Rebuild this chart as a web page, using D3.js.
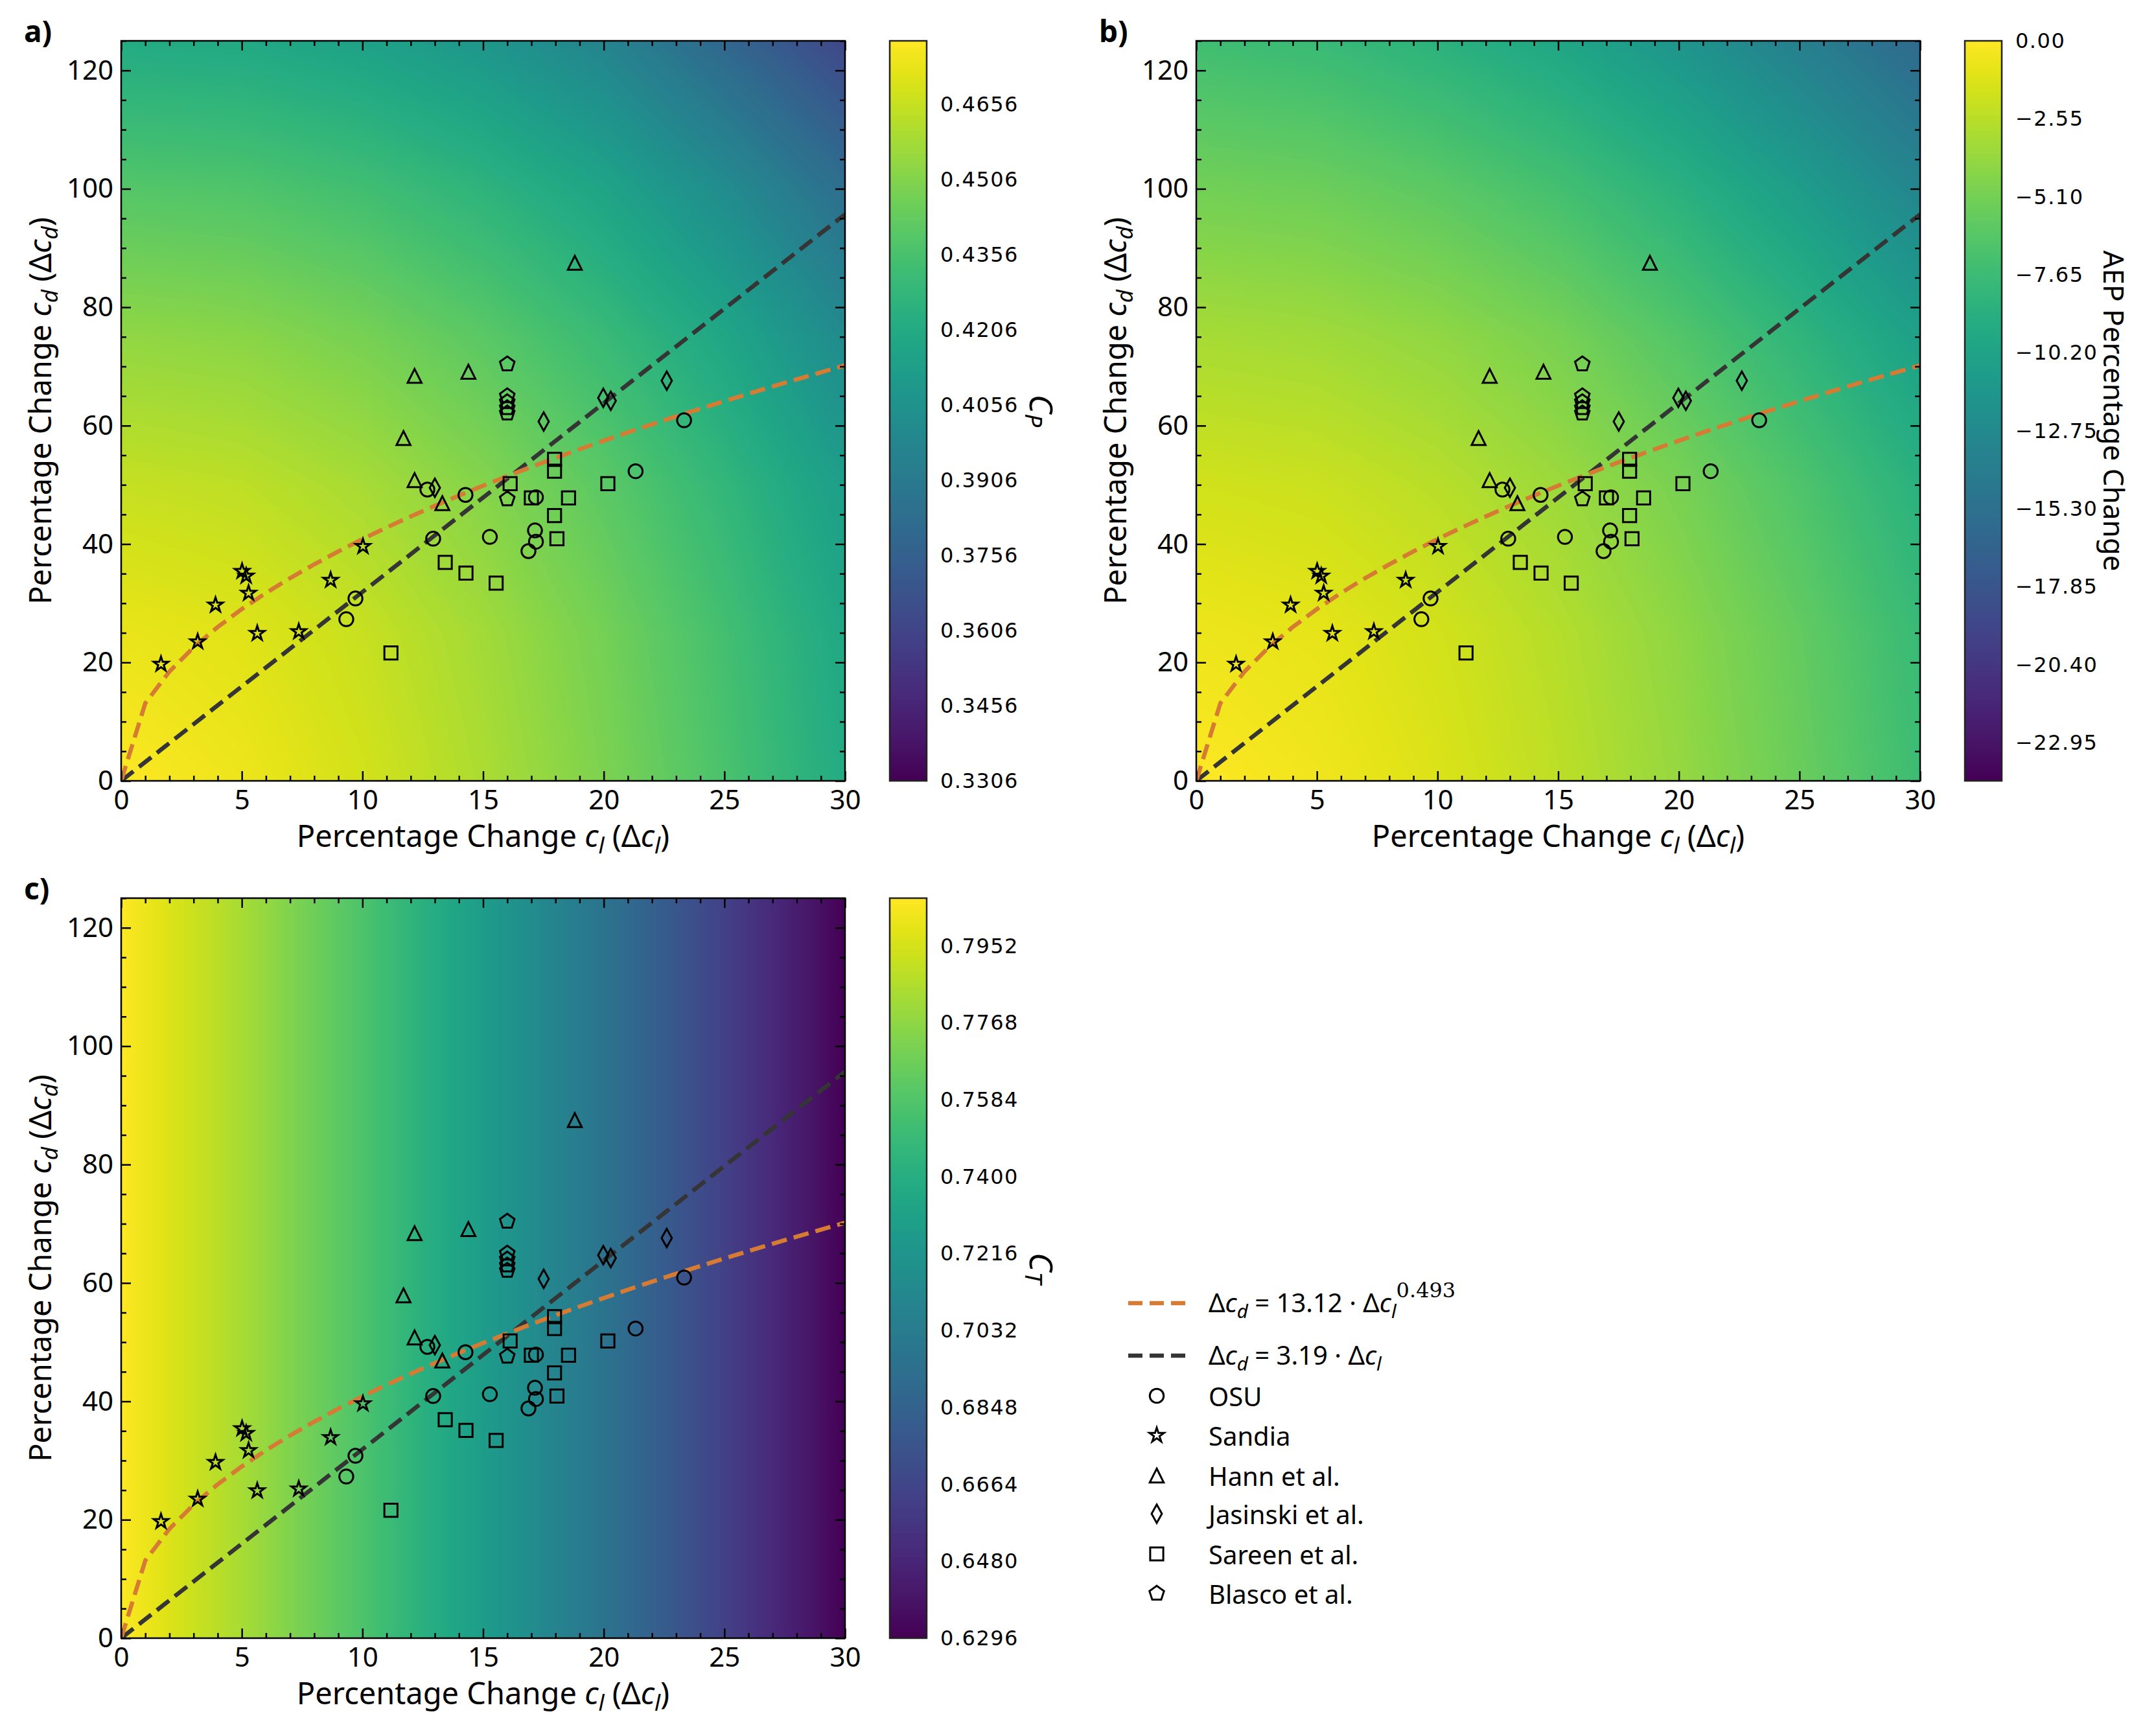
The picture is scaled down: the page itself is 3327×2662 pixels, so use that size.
<!DOCTYPE html>
<html lang="en">
<head>
<meta charset="UTF-8">
<title>Lift / drag change maps</title>
<script src="https://cdn.jsdelivr.net/npm/d3@7"></script>
<style>
  body { margin: 0; background: #fff; }
  svg text { font-family: "Noto Sans", sans-serif; fill: #000; }
  .tick text { font-family: "Noto Sans", sans-serif; font-size: 42px; }
  .cbar-tick { font-family: "DejaVu Sans", sans-serif; font-size: 32px; letter-spacing: 1.5px; }
</style>
</head>
<body>
<div id="app"></div>
<script>
// sample grid for the background fields
const gridCl = [0, 5, 10, 15, 20, 25, 30];
const gridCd = [0, 25, 50, 75, 100, 125];

// Cp, one row per gridCd value
const cpGrid = [
  [0.4783, 0.4746, 0.4686, 0.4601, 0.4494, 0.4362, 0.4207],
  [0.4736, 0.4715, 0.4660, 0.4579, 0.4473, 0.4341, 0.4186],
  [0.4656, 0.4638, 0.4590, 0.4513, 0.4409, 0.4281, 0.4127],
  [0.4541, 0.4525, 0.4480, 0.4406, 0.4306, 0.4180, 0.4010],
  [0.4390, 0.4377, 0.4334, 0.4263, 0.4166, 0.4020, 0.3835],
  [0.4207, 0.4194, 0.4151, 0.4083, 0.3970, 0.3790, 0.3615]
];
// AEP percentage change
const aepGrid = [
  [0.00, -0.48, -1.28, -2.38, -3.79, -5.52, -7.55],
  [-0.62, -0.89, -1.61, -2.67, -4.07, -5.79, -7.82],
  [-1.66, -1.90, -2.54, -3.54, -4.90, -6.70, -8.80],
  [-3.18, -3.39, -3.97, -4.94, -6.50, -8.40, -10.50],
  [-5.15, -5.40, -6.10, -7.20, -8.80, -10.80, -13.20],
  [-7.40, -7.80, -8.70, -9.90, -11.60, -13.80, -16.00]
];
// Ct only varies with lift change
const ctByCl = [0.8066, 0.7836, 0.7570, 0.7270, 0.6968, 0.6632, 0.6296];

const cpTicks = [0.3306, 0.3456, 0.3606, 0.3756, 0.3906, 0.4056, 0.4206, 0.4356, 0.4506, 0.4656];
const aepTicks = [0, -2.55, -5.10, -7.65, -10.20, -12.75, -15.30, -17.85, -20.40, -22.95];
const ctTicks = [0.6296, 0.6480, 0.6664, 0.6848, 0.7032, 0.7216, 0.7400, 0.7584, 0.7768, 0.7952];

// experimental points [delta cl, delta cd]
const osu = [[23.33, 60.9], [21.32, 52.3], [12.69, 49.2], [14.27, 48.3], [17.19, 47.9], [12.93, 40.9],
  [15.28, 41.2], [17.15, 42.3], [17.19, 40.4], [16.88, 38.8], [9.71, 30.8], [9.33, 27.3]];
const sandia = [[1.65, 19.7], [3.17, 23.5], [3.91, 29.7], [5.01, 35.4], [5.18, 34.6], [5.28, 31.7],
  [5.64, 24.9], [7.36, 25.2], [8.68, 33.9], [10.02, 39.6]];
const hann = [[18.80, 87.5], [12.16, 68.4], [14.39, 69.1], [11.70, 57.9], [12.16, 50.8], [13.31, 46.9]];
const jasinski = [[22.61, 67.6], [19.98, 64.7], [20.29, 64.2], [17.51, 60.7], [13.00, 49.5]];
const sareen = [[17.96, 54.3], [17.96, 52.3], [16.12, 50.2], [20.17, 50.2], [17.00, 47.8], [18.54, 47.8],
  [17.96, 44.8], [18.06, 40.9], [13.43, 36.9], [14.29, 35.1], [15.54, 33.4], [11.18, 21.6]];
const blasco = [[16.0, 70.4], [16.0, 65.0], [16.0, 64.0], [16.0, 63.0], [16.0, 62.1], [16.0, 47.6]];

// fitted curves
const powerFitCl = [0, 1, 2, 3, 4, 5, 6, 7, 8, 9, 10, 11, 12, 13, 14, 15, 16, 17, 18, 19, 20,
  21, 22, 23, 24, 25, 26, 27, 28, 29, 30];
const powerFitCd = [0, 13.12, 18.46, 22.55, 25.98, 29.01, 31.74, 34.24, 36.57, 38.76, 40.83,
  42.79, 44.66, 46.46, 48.19, 49.86, 51.46, 53.04, 54.55, 56.02, 57.45, 58.86, 60.22, 61.56,
  62.85, 64.14, 65.38, 66.62, 67.82, 69.01, 70.17];
const linFitCl = [0, 30];
const linFitCd = [0, 95.7];

const orange = '#d67b34';
const darkLine = '#353535';

// marker shapes, size = width squared
const mk = s => Math.sqrt(s);
const shapes = {
  circle: { draw(c, size) { const r = mk(size) / 2; c.moveTo(r, 0); c.arc(0, 0, r, 0, 2 * Math.PI); } },
  square: { draw(c, size) { const h = mk(size) * 0.47; c.rect(-h, -h, 2 * h, 2 * h); } },
  triangle: { draw(c, size) { const h = mk(size) / 2; c.moveTo(0, -h); c.lineTo(h, h); c.lineTo(-h, h); c.closePath(); } },
  thinDiamond: { draw(c, size) { const s = mk(size); c.moveTo(0, -0.66 * s); c.lineTo(0.37 * s, 0); c.lineTo(0, 0.66 * s); c.lineTo(-0.37 * s, 0); c.closePath(); } },
  pentagon: { draw(c, size) { const r = mk(size) * 0.55; for (let i = 0; i < 5; i++) { const a = -Math.PI / 2 + i * 2 * Math.PI / 5; i ? c.lineTo(r * Math.cos(a), r * Math.sin(a)) : c.moveTo(r * Math.cos(a), r * Math.sin(a)); } c.closePath(); } },
  star: { draw(c, size) { const R = mk(size) * 0.55, r = R * 0.382; for (let i = 0; i < 10; i++) { const a = -Math.PI / 2 + i * Math.PI / 5, rr = i % 2 ? r : R; i ? c.lineTo(rr * Math.cos(a), rr * Math.sin(a)) : c.moveTo(rr * Math.cos(a), rr * Math.sin(a)); } c.closePath(); } }
};

const series = [
  { name: 'OSU', data: osu, shape: shapes.circle },
  { name: 'Sandia', data: sandia, shape: shapes.star },
  { name: 'Hann et al.', data: hann, shape: shapes.triangle },
  { name: 'Jasinski et al.', data: jasinski, shape: shapes.thinDiamond },
  { name: 'Sareen et al.', data: sareen, shape: shapes.square },
  { name: 'Blasco et al.', data: blasco, shape: shapes.pentagon }
];
const markerSize = 462;

const W = 3327, H = 2662;
const plotW = 1117, plotH = 1142;
const cbarGap = 69, cbarW = 57;

const fmt4 = d3.format('.4f'), fmt2 = d3.format('.2f');
const panels = [
  { tag: 'a)', left: 187, top: 63, grid: cpGrid, domain: [0.3306, 0.4783], ticks: cpTicks, fmt: fmt4, label: 'cp', labelX: 1608 },
  { tag: 'b)', left: 1846, top: 63, grid: aepGrid, domain: [-24.2, 0], ticks: aepTicks, fmt: fmt2, label: 'aep', labelX: 3263 },
  { tag: 'c)', left: 187, top: 1386, grid: gridCd.map(() => ctByCl), domain: [0.6296, 0.8066], ticks: ctTicks, fmt: fmt4, label: 'ct', labelX: 1608 }
];

const lut = d3.range(256).map(i => d3.rgb(d3.interpolateViridis(i / 255)));

function sampleGrid(grid, cl, cd) {
  const i = Math.max(0, Math.min(gridCl.length - 2, d3.bisectRight(gridCl, cl) - 1));
  const j = Math.max(0, Math.min(gridCd.length - 2, d3.bisectRight(gridCd, cd) - 1));
  const tx = (cl - gridCl[i]) / (gridCl[i + 1] - gridCl[i]);
  const ty = (cd - gridCd[j]) / (gridCd[j + 1] - gridCd[j]);
  const a = grid[j][i] * (1 - tx) + grid[j][i + 1] * tx;
  const b = grid[j + 1][i] * (1 - tx) + grid[j + 1][i + 1] * tx;
  return a * (1 - ty) + b * ty;
}

const svg = d3.select('#app').append('svg')
  .attr('width', W).attr('height', H)
  .style('display', 'block');
svg.append('rect').attr('width', W).attr('height', H).attr('fill', '#fff');

function mathLabel(g, parts, size) {
  // parts: [text, style] where style: '', 'i' italic, 's' italic subscript
  const t = g.append('text').attr('font-size', size);
  let shifted = false;
  parts.forEach(([txt, st]) => {
    const ts = t.append('tspan').text(txt);
    if (st === 'i' || st === 's') ts.attr('font-style', 'italic');
    if (st === 's' && !shifted) { ts.attr('dy', size * 0.22).attr('font-size', size * 0.74); shifted = true; }
    else if (st !== 's' && shifted) { ts.attr('dy', -size * 0.22); shifted = false; }
  });
  return t;
}

panels.forEach((p, k) => {
  const x = d3.scaleLinear().domain([0, 30]).range([0, plotW]);
  const y = d3.scaleLinear().domain([0, 125]).range([plotH, 0]);
  const color = d3.scaleLinear().domain(p.domain).range([0, 255]).clamp(true);
  const g = svg.append('g').attr('transform', `translate(${p.left},${p.top})`);

  // background field
  const cv = document.createElement('canvas');
  cv.width = plotW; cv.height = plotH;
  const ctx = cv.getContext('2d');
  const img = ctx.createImageData(plotW, plotH);
  for (let py = 0; py < plotH; py++) {
    const cd = y.invert(py + 0.5);
    for (let px = 0; px < plotW; px++) {
      const v = sampleGrid(p.grid, x.invert(px + 0.5), cd);
      const c = lut[Math.round(color(v))];
      const o = (py * plotW + px) * 4;
      img.data[o] = c.r; img.data[o + 1] = c.g; img.data[o + 2] = c.b; img.data[o + 3] = 255;
    }
  }
  ctx.putImageData(img, 0, 0);
  g.append('image').attr('href', cv.toDataURL()).attr('width', plotW).attr('height', plotH)
    .attr('preserveAspectRatio', 'none');

  const clipId = 'clip' + k;
  g.append('clipPath').attr('id', clipId).append('rect').attr('width', plotW).attr('height', plotH);

  // fits
  const line = d3.line().x(d => x(d[0])).y(d => y(d[1]));
  const lines = g.append('g').attr('clip-path', `url(#${clipId})`).attr('fill', 'none')
    .attr('stroke-width', 6.5).attr('stroke-dasharray', '24,11');
  lines.append('path').attr('d', line(linFitCl.map((c, i) => [c, linFitCd[i]]))).attr('stroke', darkLine);
  lines.append('path').attr('d', line(powerFitCl.map((c, i) => [c, powerFitCd[i]]))).attr('stroke', orange);

  // markers
  series.forEach(s => {
    g.append('g').selectAll('path').data(s.data).join('path')
      .attr('transform', d => `translate(${x(d[0])},${y(d[1])})`)
      .attr('d', d3.symbol().type(s.shape).size(markerSize))
      .attr('fill', 'none').attr('stroke', '#000').attr('stroke-width', 3);
  });

  // axes, ticks inward on all sides
  const xMajor = [0, 5, 10, 15, 20, 25, 30];
  const xMinor = d3.range(0, 31).filter(v => v % 5);
  const yMajor = [0, 20, 40, 60, 80, 100, 120];
  const yMinor = d3.range(0, 126, 5).filter(v => v % 20);
  const axes = [
    g.append('g').attr('transform', `translate(0,${plotH})`).call(d3.axisBottom(x).tickValues(xMajor).tickSize(-15).tickPadding(14).tickFormat(d3.format('d'))),
    g.append('g').attr('transform', `translate(0,${plotH})`).call(d3.axisBottom(x).tickValues(xMinor).tickSize(-8).tickFormat('')),
    g.append('g').call(d3.axisTop(x).tickValues(xMajor).tickSize(-15).tickFormat('')),
    g.append('g').call(d3.axisTop(x).tickValues(xMinor).tickSize(-8).tickFormat('')),
    g.append('g').call(d3.axisLeft(y).tickValues(yMajor).tickSize(-15).tickPadding(12).tickFormat(d3.format('d'))),
    g.append('g').call(d3.axisLeft(y).tickValues(yMinor).tickSize(-8).tickFormat('')),
    g.append('g').attr('transform', `translate(${plotW},0)`).call(d3.axisRight(y).tickValues(yMajor).tickSize(-15).tickFormat('')),
    g.append('g').attr('transform', `translate(${plotW},0)`).call(d3.axisRight(y).tickValues(yMinor).tickSize(-8).tickFormat(''))
  ];
  axes.forEach(a => {
    a.select('.domain').remove();
    a.selectAll('line').attr('stroke', '#000').attr('stroke-width', 2.5);
    a.selectAll('text').attr('font-size', 42).attr('fill', '#000');
  });
  g.append('rect').attr('width', plotW).attr('height', plotH)
    .attr('fill', 'none').attr('stroke', '#000').attr('stroke-width', 2.5);

  // axis titles
  const xl = mathLabel(g, [['Percentage Change ', ''], ['c', 'i'], ['l', 's'], [' (Δ', ''], ['c', 'i'], ['l', 's'], [')', '']], 47);
  xl.attr('x', plotW / 2).attr('y', plotH + 102).attr('text-anchor', 'middle');
  const yl = mathLabel(g, [['Percentage Change ', ''], ['c', 'i'], ['d', 's'], [' (Δ', ''], ['c', 'i'], ['d', 's'], [')', '']], 47);
  yl.attr('text-anchor', 'middle').attr('transform', `translate(-108,${plotH / 2}) rotate(-90)`);

  // panel tag
  g.append('text').attr('x', -150).attr('y', 2).attr('font-size', 46).attr('font-weight', 'bold').text(p.tag);

  // colorbar
  const cb = g.append('g').attr('transform', `translate(${plotW + cbarGap},0)`);
  const cy = d3.scaleLinear().domain(p.domain).range([plotH, 0]);
  const cc = document.createElement('canvas');
  cc.width = 1; cc.height = plotH;
  const cctx = cc.getContext('2d');
  for (let py = 0; py < plotH; py++) {
    cctx.fillStyle = d3.interpolateViridis(color(cy.invert(py + 0.5)) / 255);
    cctx.fillRect(0, py, 1, 1);
  }
  cb.append('image').attr('href', cc.toDataURL()).attr('width', cbarW).attr('height', plotH)
    .attr('preserveAspectRatio', 'none').style('image-rendering', 'pixelated');
  cb.append('rect').attr('width', cbarW).attr('height', plotH).attr('fill', 'none')
    .attr('stroke', '#222').attr('stroke-width', 2.5);
  cb.selectAll('text.cbar-tick').data(p.ticks).join('text').attr('class', 'cbar-tick')
    .attr('x', cbarW + 21).attr('y', d => cy(d)).attr('dominant-baseline', 'central')
    .text(d => p.fmt(d));

  const lx = p.labelX - p.left - plotW - cbarGap;
  let lab;
  if (p.label === 'aep') {
    lab = cb.append('text').attr('font-size', 44).text('AEP Percentage Change');
  } else {
    lab = mathLabel(cb, [['C', 'i'], [p.label === 'cp' ? 'P' : 'T', 's']], 50);
  }
  lab.attr('text-anchor', 'middle').attr('dominant-baseline', 'central')
    .attr('transform', `translate(${lx},${plotH / 2}) rotate(90)`);
});

// legend
const leg = svg.append('g').attr('transform', 'translate(1741,0)');
const rowY = [2011, 2092, 2154, 2215, 2277, 2336, 2398, 2459];
const legFont = 40;
[[orange, [['Δ', ''], ['c', 'i'], ['d', 's'], [' = 13.12 · Δ', ''], ['c', 'i'], ['l', 's']]],
 [darkLine, [['Δ', ''], ['c', 'i'], ['d', 's'], [' = 3.19 · Δ', ''], ['c', 'i'], ['l', 's']]]]
  .forEach(([col, parts], i) => {
    leg.append('line').attr('x1', 0).attr('x2', 88).attr('y1', rowY[i]).attr('y2', rowY[i])
      .attr('stroke', col).attr('stroke-width', 6.5).attr('stroke-dasharray', '22,11');
    const t = mathLabel(leg, parts, legFont);
    t.attr('x', 124).attr('y', rowY[i] + legFont * 0.36);
    if (i === 0) {
      t.append('tspan').attr('dy', -legFont * 0.8).attr('font-size', legFont * 0.8)
        .attr('font-family', '"DejaVu Serif", serif').attr('font-style', 'normal').text('0.493');
    }
  });
series.forEach((s, i) => {
  const yy = rowY[i + 2];
  leg.append('path').attr('transform', `translate(44,${yy})`)
    .attr('d', d3.symbol().type(s.shape).size(markerSize))
    .attr('fill', 'none').attr('stroke', '#000').attr('stroke-width', 3);
  leg.append('text').attr('x', 124).attr('y', yy).attr('dominant-baseline', 'central')
    .attr('font-size', legFont).text(s.name);
});
</script>
</body>
</html>
